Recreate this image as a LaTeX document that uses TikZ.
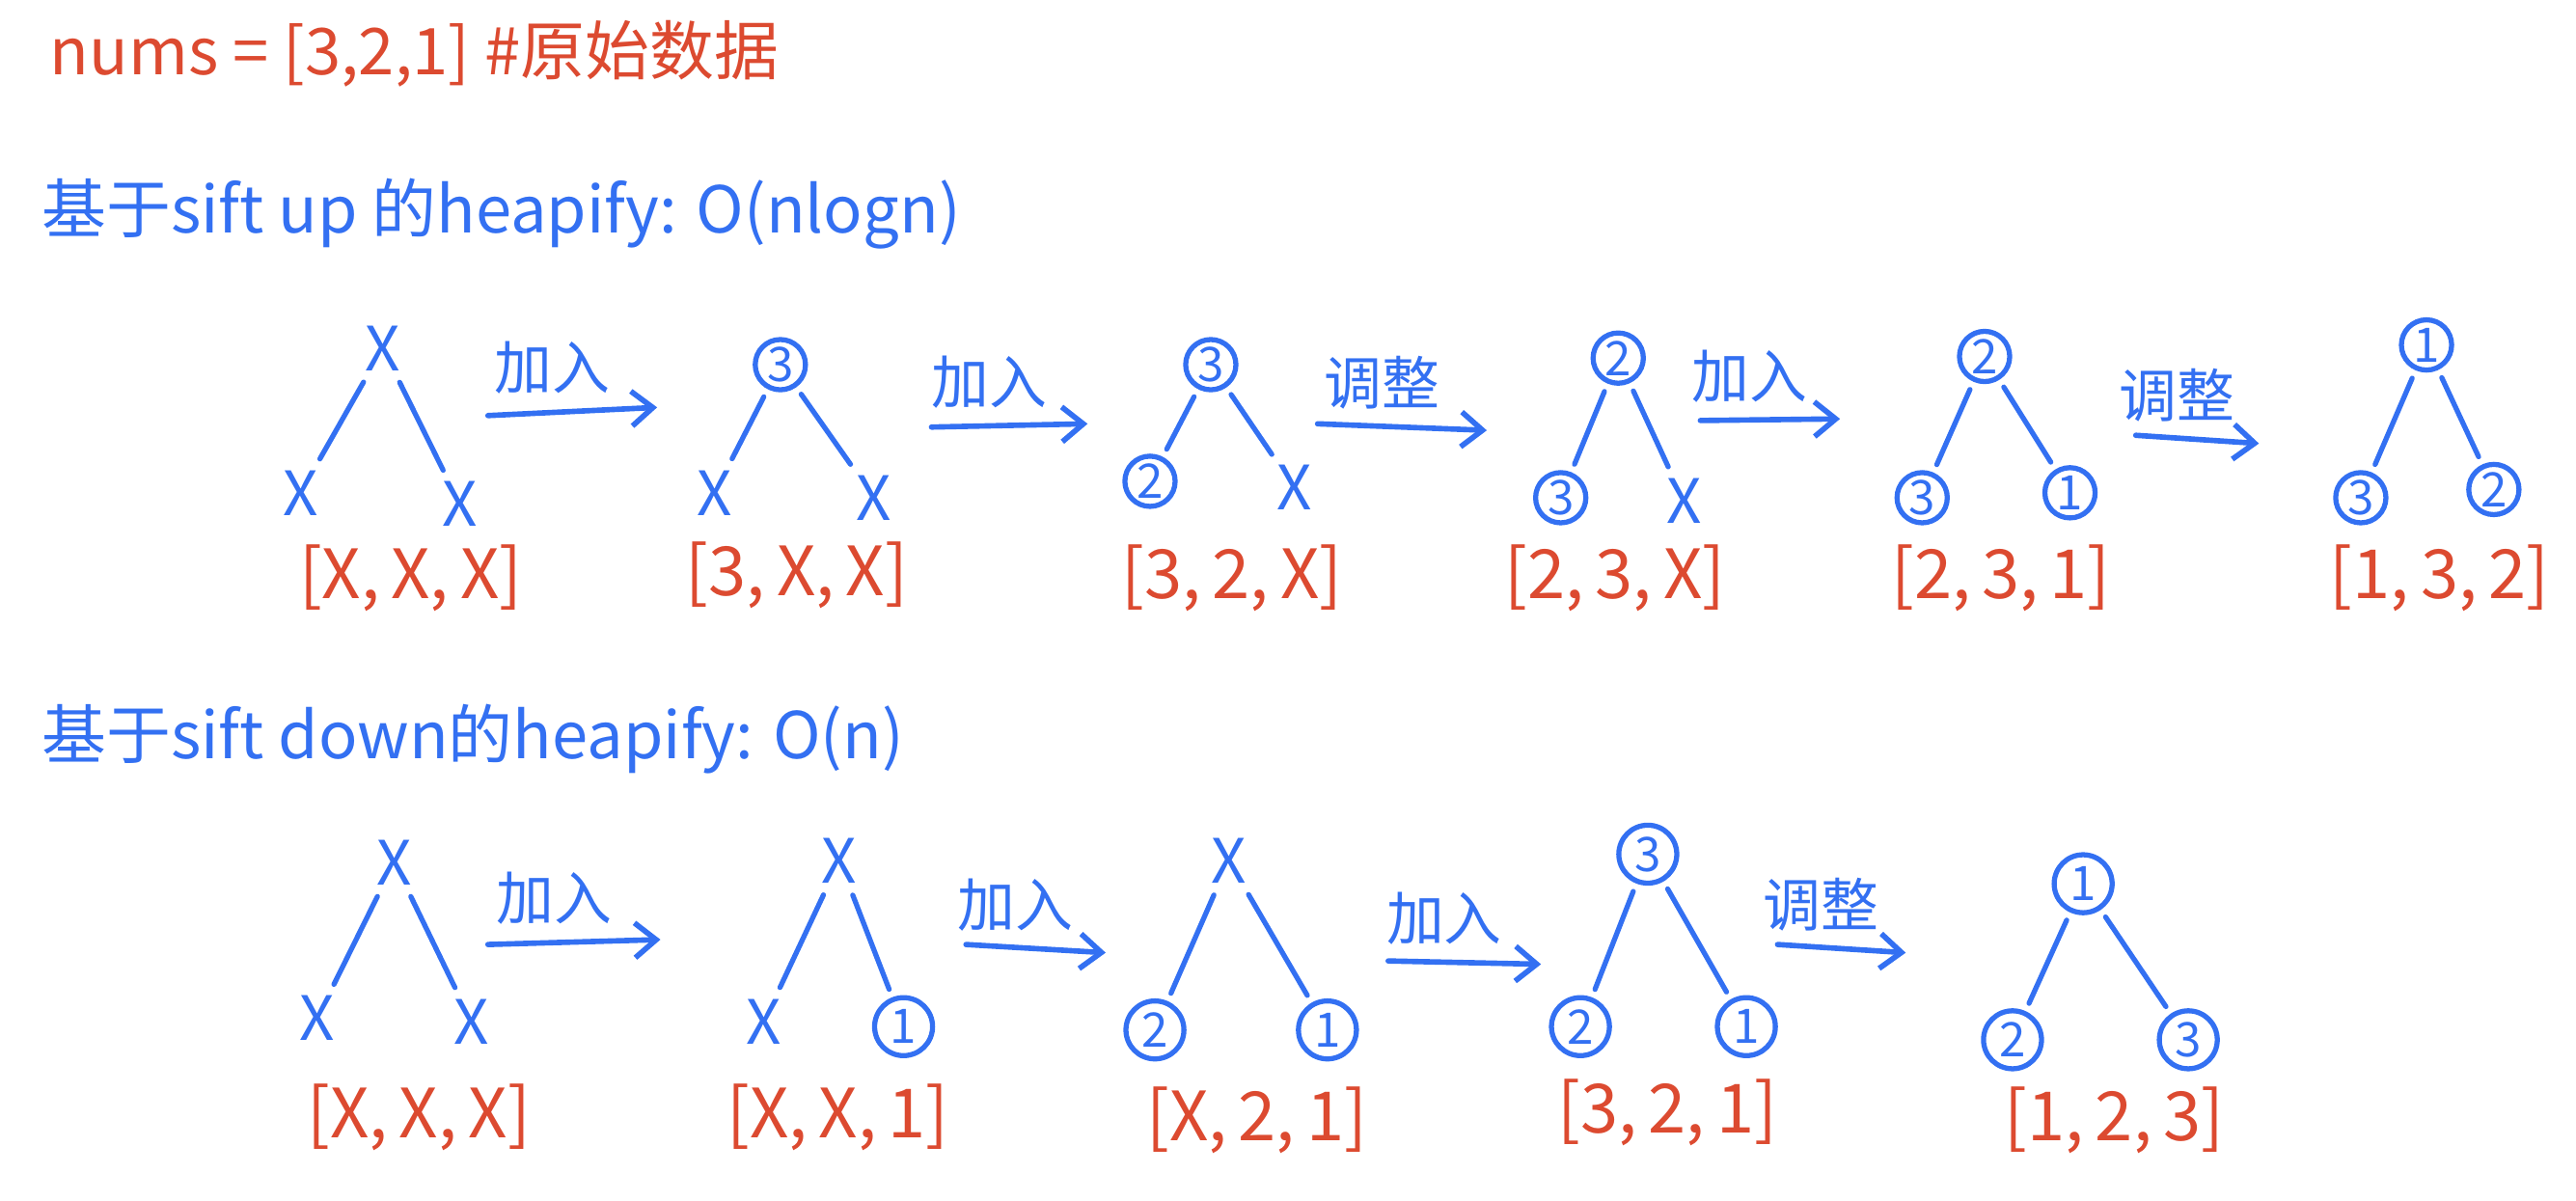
\documentclass[tikz,border=0pt]{standalone}
\usepackage{fontspec}
\setmainfont{Noto Sans CJK SC}
\usetikzlibrary{arrows.meta}
\definecolor{penblue}{HTML}{3370F2}
\definecolor{penred}{HTML}{DC4A30}

\begin{document}
\begin{tikzpicture}[
    x=0.017cm, y=-0.017cm,
    >={Straight Barb[length=2.2mm, width=3.6mm]},
    title/.style={font=\fontsize{19}{22}\selectfont, text=penred, anchor=west, inner sep=0pt},
    heading/.style={font=\fontsize{19}{23}\selectfont, text=penblue, anchor=west, inner sep=0pt},
    empty/.style={font=\fontsize{18}{20}\selectfont, text=penblue, inner sep=1pt},
    val/.style={circle, draw=penblue, line width=1.5pt, text=penblue, minimum size=0.52cm,
                inner sep=0pt, font=\fontsize{14}{16}\selectfont},
    arr/.style={font=\fontsize{20}{23}\selectfont, text=penred},
    branch/.style={draw=penblue, line width=1.5pt, line cap=round, shorten <=2.5pt, shorten >=2.5pt},
    move/.style={->, draw=penblue, line width=1.6pt, line cap=round},
    lbl/.style={font=\fontsize{17}{19}\selectfont, text=penblue, above=1pt, xshift=-6pt},
]
\useasboundingbox (0,0) rectangle (1568,731);

% Header texts
\node[title] (nums) at (30,33) {nums = [3,2,1] \#原始数据};
\node[heading] (head1) at (25,130) {基于sift up 的heapify: O(nlogn)};
\node[heading] (head2) at (25,450) {基于sift down的heapify: O(n)};

% === Row 1: sift up ===
% Tree 1
\node[empty] (u1root) at (233,212) {X};
\node[empty] (u1left) at (183,300) {X};
\node[empty] (u1right) at (280,307) {X};
\node[arr] (u1arr) at (250,352) {[X,\,X,\,X]};
% Tree 2
\node[val] (u2root) at (475,222) {3};
\node[empty] (u2left) at (435,300) {X};
\node[empty] (u2right) at (532,303) {X};
\node[arr] (u2arr) at (485,350) {[3,\,X,\,X]};
% Tree 3
\node[val] (u3root) at (737,222) {3};
\node[val] (u3left) at (700,293) {2};
\node[empty] (u3right) at (788,297) {X};
\node[arr] (u3arr) at (750,352) {[3,\,2,\,X]};
% Tree 4
\node[val] (u4root) at (985,218) {2};
\node[val] (u4left) at (950,303) {3};
\node[empty] (u4right) at (1025,305) {X};
\node[arr] (u4arr) at (983,352) {[2,\,3,\,X]};
% Tree 5
\node[val] (u5root) at (1208,217) {2};
\node[val] (u5left) at (1170,303) {3};
\node[val] (u5right) at (1260,300) {1};
\node[arr] (u5arr) at (1218,352) {[2,\,3,\,1]};
% Tree 6
\node[val] (u6root) at (1477,210) {1};
\node[val] (u6left) at (1437,303) {3};
\node[val] (u6right) at (1518,298) {2};
\node[arr] (u6arr) at (1485,352) {[1,\,3,\,2]};

% Row 1 arrow ends
\coordinate (u1s) at (297,253); \coordinate (u1e) at (400,248);
\coordinate (u2s) at (567,260); \coordinate (u2e) at (662,258);
\coordinate (u3s) at (802,258); \coordinate (u3e) at (905,262);
\coordinate (u4s) at (1035,256); \coordinate (u4e) at (1120,255);
\coordinate (u5s) at (1300,265); \coordinate (u5e) at (1375,270);

% === Row 2: sift down ===
% Tree 1
\node[empty] (d1root) at (240,525) {X};
\node[empty] (d1left) at (193,620) {X};
\node[empty] (d1right) at (287,622) {X};
\node[arr] (d1arr) at (255,680) {[X,\,X,\,X]};
% Tree 2
\node[empty] (d2root) at (511,524) {X};
\node[empty] (d2left) at (465,622) {X};
\node[val, minimum size=0.6cm] (d2right) at (550,625) {1};
\node[arr] (d2arr) at (510,680) {[X,\,X,\,1]};
% Tree 3
\node[empty] (d3root) at (748,524) {X};
\node[val, minimum size=0.6cm] (d3left) at (703,627) {2};
\node[val, minimum size=0.6cm] (d3right) at (808,627) {1};
\node[arr] (d3arr) at (765,682) {[X,\,2,\,1]};
% Tree 4
\node[val, minimum size=0.6cm] (d4root) at (1003,520) {3};
\node[val, minimum size=0.6cm] (d4left) at (962,625) {2};
\node[val, minimum size=0.6cm] (d4right) at (1063,625) {1};
\node[arr] (d4arr) at (1015,677) {[3,\,2,\,1]};
% Tree 5
\node[val, minimum size=0.6cm] (d5root) at (1268,538) {1};
\node[val, minimum size=0.6cm] (d5left) at (1225,633) {2};
\node[val, minimum size=0.6cm] (d5right) at (1332,633) {3};
\node[arr] (d5arr) at (1287,682) {[1,\,2,\,3]};

% Row 2 arrow ends
\coordinate (d1s) at (297,575); \coordinate (d1e) at (402,572);
\coordinate (d2s) at (588,575); \coordinate (d2e) at (673,580);
\coordinate (d3s) at (845,585); \coordinate (d3e) at (938,587);
\coordinate (d4s) at (1082,575); \coordinate (d4e) at (1160,580);

% === Branches ===
\foreach \t in {u1,u2,u3,u4,u5,u6,d1,d2,d3,d4,d5} {
  \draw[branch] (\t root) -- (\t left);
  \draw[branch] (\t root) -- (\t right);
}

% === Arrows ===
\draw[move] (u1s) -- (u1e) node[midway, lbl] {加入};
\draw[move] (u2s) -- (u2e) node[midway, lbl] {加入};
\draw[move] (u3s) -- (u3e) node[midway, lbl] {调整};
\draw[move] (u4s) -- (u4e) node[midway, lbl] {加入};
\draw[move] (u5s) -- (u5e) node[midway, lbl] {调整};
\draw[move] (d1s) -- (d1e) node[midway, lbl] {加入};
\draw[move] (d2s) -- (d2e) node[midway, lbl] {加入};
\draw[move] (d3s) -- (d3e) node[midway, lbl] {加入};
\draw[move] (d4s) -- (d4e) node[midway, lbl] {调整};

\end{tikzpicture}
\end{document}
